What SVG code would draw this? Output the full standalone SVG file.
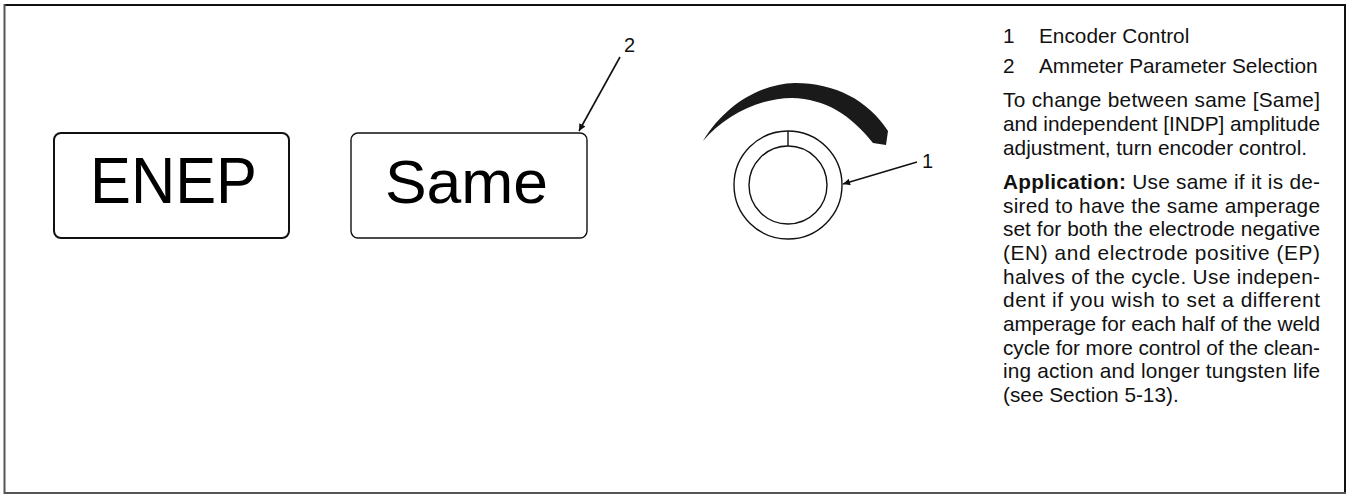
<svg xmlns="http://www.w3.org/2000/svg" width="1348" height="497" viewBox="0 0 1348 497">
<style>
.box{fill:#fff;stroke:#111;}
.big{font-family:"Liberation Sans",Arial,sans-serif;fill:#000;}
.lbl{font-family:"Liberation Sans",Arial,sans-serif;font-size:20px;fill:#111;}
.txt{font-family:"Liberation Sans",Arial,sans-serif;font-size:20.8px;fill:#111;}
.b{font-weight:bold;}
.lead{stroke:#111;stroke-width:1.6;fill:none;}
</style>
<defs>
<marker id="ah" viewBox="0 0 10 10" refX="10" refY="5" markerWidth="11" markerHeight="7" markerUnits="userSpaceOnUse" orient="auto">
<path d="M0,0 L10,5 L0,10 Z" fill="#111"/>
</marker>
</defs>
<rect width="1348" height="497" fill="#fff"/>
<g id="frame">
<line x1="4" y1="5" x2="1345" y2="5" stroke="#111" stroke-width="2"/>
<line x1="1345" y1="4" x2="1345" y2="494" stroke="#111" stroke-width="2"/>
<line x1="4.5" y1="4" x2="4.5" y2="494" stroke="#555" stroke-width="2"/>
<line x1="4" y1="493" x2="1346" y2="493" stroke="#555" stroke-width="2"/>
</g>
<g id="node-enep">
<rect class="box" x="54" y="133" width="235" height="105" rx="7" stroke-width="2"/>
<text class="big" x="90" y="203" font-size="64" textLength="167" lengthAdjust="spacingAndGlyphs">ENEP</text>
</g>
<g id="node-same">
<rect class="box" x="351" y="133" width="236" height="105" rx="7" stroke-width="1.4"/>
<text class="big" x="385" y="203" font-size="62" textLength="163" lengthAdjust="spacingAndGlyphs">Same</text>
</g>
<g id="node-encoder">
<path d="M703,141 C725,105 760,84 795,83 C835,83 868,100 888,131 L886,145 L873,143 C850,114 825,99 792,98 C760,98 725,115 703,141 Z" fill="#1a1a1a"/>
<circle cx="788" cy="185" r="54" fill="none" stroke="#111" stroke-width="1.4"/>
<circle cx="788" cy="185" r="39" fill="none" stroke="#111" stroke-width="1.4"/>
<line x1="788" y1="131" x2="788" y2="146" stroke="#111" stroke-width="1.4"/>
</g>
<g id="connectors">
<line class="lead" x1="620" y1="57" x2="579" y2="131" marker-end="url(#ah)"/>
<line class="lead" x1="917" y1="162" x2="843" y2="184" marker-end="url(#ah)"/>
</g>
<g id="labels">
<text class="lbl" x="624" y="52">2</text>
<text class="lbl" x="922" y="168">1</text>
</g>
<g id="legend">
<text class="txt" x="1003" y="43">1</text>
<text class="txt" x="1039" y="43">Encoder Control</text>
<text class="txt" x="1003" y="73">2</text>
<text class="txt" x="1039" y="73">Ammeter Parameter Selection</text>
<text class="txt" x="1003" y="107" textLength="317" lengthAdjust="spacing">To change between same [Same]</text>
<text class="txt" x="1003" y="131" textLength="317" lengthAdjust="spacing">and independent [INDP] amplitude</text>
<text class="txt" x="1003" y="155">adjustment, turn encoder control.</text>
<text class="txt" x="1003" y="189" textLength="317" lengthAdjust="spacing"><tspan class="b">Application:</tspan><tspan dx="6">Use same if it is de-</tspan></text>
<text class="txt" x="1003" y="212.5" textLength="317" lengthAdjust="spacing">sired to have the same amperage</text>
<text class="txt" x="1003" y="236.2" textLength="317" lengthAdjust="spacing">set for both the electrode negative</text>
<text class="txt" x="1003" y="259.9" textLength="317" lengthAdjust="spacing">(EN) and electrode positive (EP)</text>
<text class="txt" x="1003" y="283.6" textLength="317" lengthAdjust="spacing">halves of the cycle. Use indepen-</text>
<text class="txt" x="1003" y="307.3" textLength="317" lengthAdjust="spacing">dent if you wish to set a different</text>
<text class="txt" x="1003" y="331" textLength="317" lengthAdjust="spacing">amperage for each half of the weld</text>
<text class="txt" x="1003" y="354.7" textLength="317" lengthAdjust="spacing">cycle for more control of the clean-</text>
<text class="txt" x="1003" y="378.4" textLength="317" lengthAdjust="spacing">ing action and longer tungsten life</text>
<text class="txt" x="1003" y="402.1">(see Section 5-13).</text>
</g>
</svg>
